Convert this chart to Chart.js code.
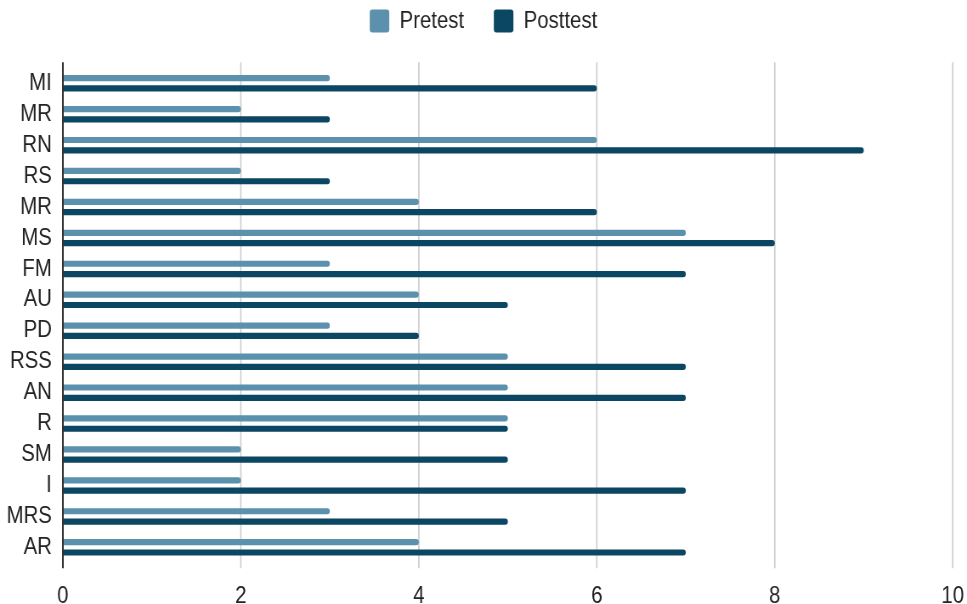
<!DOCTYPE html>
<html>
<head>
<meta charset="utf-8">
<script src="https://cdn.jsdelivr.net/npm/chart.js@4/dist/chart.umd.min.js"></script>
<style>
  html, body { margin: 0; padding: 0; background: #fff; overflow: hidden; }
  #c { display: block; }
</style>
</head>
<body>
<!-- drawing surface is wider than its box, giving the narrow lettering -->
<canvas id="c" width="1138" height="604" style="width:967px;height:604px"></canvas>
<script>
const categories = ['MI', 'MR', 'RN', 'RS', 'MR', 'MS', 'FM', 'AU', 'PD', 'RSS', 'AN', 'R', 'SM', 'I', 'MRS', 'AR'];
const pretest  = [3, 2, 6, 2, 4, 7, 3, 4, 3, 5, 5, 5, 2, 2, 3, 4];
const posttest = [6, 3, 9, 3, 6, 8, 7, 5, 4, 7, 7, 5, 5, 7, 5, 7];
const xTicks = [0, 2, 4, 6, 8, 10];

const FONT = "'Liberation Sans', Arial, sans-serif";
const TEXT = '#222222';
const GRID = '#cccccc';
const AXIS = '#333333';
const GRID_EXT = 5.5;

// vertical gridlines and the left axis line, a little taller than the plot
const gridLines = {
  id: 'gridLines',
  beforeDatasetsDraw(chart) {
    const { ctx, chartArea, scales: { x } } = chart;
    ctx.save();
    ctx.strokeStyle = GRID;
    ctx.lineWidth = 1.6;
    x.ticks.forEach(t => {
      if (t.value === xTicks[0]) return;
      const px = x.getPixelForValue(t.value);
      ctx.beginPath();
      ctx.moveTo(px, chartArea.top - GRID_EXT);
      ctx.lineTo(px, chartArea.bottom + GRID_EXT);
      ctx.stroke();
    });
    ctx.restore();
  },
  afterDatasetsDraw(chart) {
    const { ctx, chartArea, scales: { x } } = chart;
    const px = x.getPixelForValue(xTicks[0]);
    ctx.save();
    ctx.strokeStyle = AXIS;
    ctx.lineWidth = 2;
    ctx.beginPath();
    ctx.moveTo(px, chartArea.top - GRID_EXT);
    ctx.lineTo(px, chartArea.bottom + GRID_EXT);
    ctx.stroke();
    ctx.restore();
  }
};

// empty axes used only as spacers around the plot
const spacer = (size, horizontal) => ({
  type: 'linear',
  display: true,
  min: 0,
  max: 1,
  grid: { display: false },
  border: { display: false },
  ticks: { display: false },
  afterFit(scale) { if (horizontal) scale.height = size; else scale.width = size; }
});

new Chart(document.getElementById('c'), {
  type: 'bar',
  data: {
    labels: categories,
    datasets: [
      { label: 'Pretest', data: pretest, backgroundColor: '#5b91ad', xAxisID: 'x', yAxisID: 'y' },
      { label: 'Posttest', data: posttest, backgroundColor: '#0b4662', xAxisID: 'x', yAxisID: 'y' }
    ]
  },
  options: {
    indexAxis: 'y',
    responsive: false,
    animation: false,
    devicePixelRatio: 1,
    categoryPercentage: 0.666,
    barPercentage: 0.6,
    borderRadius: 3,
    layout: { padding: { top: -26, right: 0, bottom: 0, left: 0 } },
    plugins: {
      legend: {
        position: 'top',
        align: 'center',
        labels: {
          boxWidth: 23,
          boxHeight: 23,
          padding: 35,
          useBorderRadius: true,
          borderRadius: 3,
          color: TEXT,
          font: { family: FONT, size: 24 }
        }
      },
      tooltip: { enabled: false }
    },
    scales: {
      x: {
        type: 'linear',
        position: 'bottom',
        min: xTicks[0],
        max: xTicks[xTicks.length - 1],
        afterBuildTicks(scale) { scale.ticks = xTicks.map(v => ({ value: v })); },
        afterFit(scale) { scale.height = 41.2; },
        // invisible tick marks only push the labels down
        grid: { display: true, drawOnChartArea: false, drawTicks: true, tickLength: 16, color: 'rgba(0,0,0,0)' },
        border: { display: false },
        ticks: { color: TEXT, padding: 3, font: { family: FONT, size: 24 } }
      },
      topGap: Object.assign(spacer(24.8, true), { position: 'top' }),
      rightGap: Object.assign(spacer(16.8, false), { position: 'right' }),
      y: {
        type: 'category',
        position: 'left',
        afterFit(scale) { scale.width = 74; },
        grid: { display: false, drawTicks: false },
        border: { display: false },
        ticks: { color: TEXT, padding: 13, autoSkip: false, font: { family: FONT, size: 24 } }
      }
    }
  },
  plugins: [gridLines]
});
</script>
</body>
</html>
